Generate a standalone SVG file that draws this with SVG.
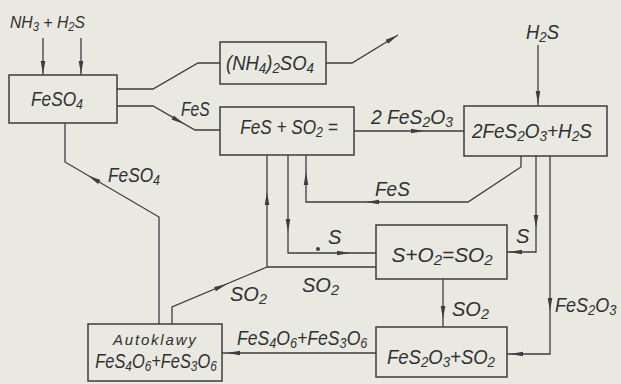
<svg xmlns="http://www.w3.org/2000/svg" xmlns:xlink="http://www.w3.org/1999/xlink" width="621" height="384" viewBox="0 0 621 384">
<style>
.bg{fill:#e9e8e1}
.box{fill:none;stroke:#3d3d3d;stroke-width:1.5}
.ln{fill:none;stroke:#3d3d3d;stroke-width:1.3}
.ah{fill:#3d3d3d}
text{font-family:"Liberation Sans","DejaVu Sans",sans-serif;font-style:italic;fill:#303030;font-size:20px}
.c{text-anchor:middle}
.sm{font-size:15px;letter-spacing:1.8px}
.md{font-size:17px}
.s{font-size:72%;baseline-shift:-22%}
</style>
<defs>
<path id="ah" d="M0,0 L-13,-2.3 L-13,2.3 Z"/>
</defs>
<rect class="bg" x="0" y="0" width="621" height="384"/>

<g id="connectors">
<path class="ln" d="M43,38 V75 M81,38 V75"/>
<use xlink:href="#ah" class="ah" transform="translate(43,74) rotate(90)"/>
<use xlink:href="#ah" class="ah" transform="translate(81,74) rotate(90)"/>
<path class="ln" d="M117,89 H153 L198,63 H220"/>
<path class="ln" d="M326,63 H352 L398,35"/>
<use xlink:href="#ah" class="ah" transform="translate(398,35) rotate(-31.3)"/>
<path class="ln" d="M117,106 H153 L195,130 H220"/>
<use xlink:href="#ah" class="ah" transform="translate(184,124) rotate(29.7)"/>
<path class="ln" d="M354,131 H464"/>
<use xlink:href="#ah" class="ah" transform="translate(424,131)"/>
<path class="ln" d="M538,45 V106"/>
<use xlink:href="#ah" class="ah" transform="translate(538,104) rotate(90)"/>
<path class="ln" d="M521,156 V167 L468,202 H306 V155"/>
<use xlink:href="#ah" class="ah" transform="translate(366,202) rotate(180)"/>
<use xlink:href="#ah" class="ah" transform="translate(306,172) rotate(-90)"/>
<path class="ln" d="M536,156 V252 H507"/>
<use xlink:href="#ah" class="ah" transform="translate(536,228) rotate(90)"/>
<use xlink:href="#ah" class="ah" transform="translate(509,252) rotate(180)"/>
<path class="ln" d="M550,156 V354 H507"/>
<use xlink:href="#ah" class="ah" transform="translate(550,311) rotate(90)"/>
<use xlink:href="#ah" class="ah" transform="translate(510,354) rotate(180)"/>
<path class="ln" d="M443,279 V327"/>
<use xlink:href="#ah" class="ah" transform="translate(443,319) rotate(90)"/>
<path class="ln" d="M288,155 V253 H376"/>
<use xlink:href="#ah" class="ah" transform="translate(288,232) rotate(90)"/>
<use xlink:href="#ah" class="ah" transform="translate(350,253)"/>
<circle class="ah" cx="318" cy="249" r="2"/>
<path class="ln" d="M376,267 H267 V155 M267,267 L172,307 V324"/>
<use xlink:href="#ah" class="ah" transform="translate(267,192) rotate(-90)"/>
<use xlink:href="#ah" class="ah" transform="translate(227,284) rotate(-22.8)"/>
<path class="ln" d="M376,353 H222"/>
<use xlink:href="#ah" class="ah" transform="translate(227,353) rotate(180)"/>
<path class="ln" d="M159,324 V217 L65,162 V123"/>
<use xlink:href="#ah" class="ah" transform="translate(88,175.5) rotate(210.3)"/>
</g>

<g id="labels">
<text class="md" transform="translate(10,28) scale(0.925,1)">NH<tspan class="s">3</tspan> + H<tspan class="s">2</tspan>S</text>
<text transform="translate(181,116) scale(0.78,1)">FeS</text>
<text transform="translate(371,124) scale(0.965,1)">2 FeS<tspan class="s">2</tspan>O<tspan class="s">3</tspan></text>
<text transform="translate(526,39) scale(0.92,1)">H<tspan class="s">2</tspan>S</text>
<text transform="translate(375,196) scale(0.95,1)">FeS</text>
<text x="516" y="243">S</text>
<text x="328" y="244">S</text>
<text x="452" y="316">SO<tspan class="s">2</tspan></text>
<text transform="translate(555,312) scale(0.9,1)">FeS<tspan class="s">2</tspan>O<tspan class="s">3</tspan></text>
<text x="230" y="301">SO<tspan class="s">2</tspan></text>
<text x="302" y="292">SO<tspan class="s">2</tspan></text>
<text transform="translate(237,345) scale(0.88,1)">FeS<tspan class="s">4</tspan>O<tspan class="s">6</tspan>+FeS<tspan class="s">3</tspan>O<tspan class="s">6</tspan></text>
<text transform="translate(108,182) scale(0.864,1)">FeSO<tspan class="s">4</tspan></text>
</g>

<g id="n-feso4">
<rect class="box" x="9" y="75" width="108" height="48"/>
<text class="c" transform="translate(57,106) scale(0.864,1)">FeSO<tspan class="s">4</tspan></text>
</g>
<g id="n-nh4so4">
<rect class="box" x="220" y="42" width="106" height="42"/>
<text class="c" transform="translate(270,70) scale(0.925,1)">(NH<tspan class="s">4</tspan>)<tspan class="s">2</tspan>SO<tspan class="s">4</tspan></text>
</g>
<g id="n-fes-so2">
<rect class="box" x="220" y="107" width="134" height="48"/>
<text class="c" transform="translate(289,134) scale(0.86,1)">FeS + SO<tspan class="s">2</tspan> =</text>
</g>
<g id="n-fes2o3-h2s">
<rect class="box" x="464" y="106" width="143" height="50"/>
<text class="c" transform="translate(532,138) scale(0.946,1)">2FeS<tspan class="s">2</tspan>O<tspan class="s">3</tspan>+H<tspan class="s">2</tspan>S</text>
</g>
<g id="n-s-o2">
<rect class="box" x="376" y="225" width="131" height="54"/>
<text class="c" transform="translate(442,262) scale(1.04,1)">S+O<tspan class="s">2</tspan>=SO<tspan class="s">2</tspan></text>
</g>
<g id="n-fes2o3-so2">
<rect class="box" x="376" y="327" width="131" height="50"/>
<text class="c" transform="translate(441,364) scale(0.924,1)">FeS<tspan class="s">2</tspan>O<tspan class="s">3</tspan>+SO<tspan class="s">2</tspan></text>
</g>
<g id="n-autoklawy">
<rect class="box" x="88" y="324" width="134" height="57"/>
<text class="sm" x="113" y="345">Autoklawy</text>
<text class="c" transform="translate(156,368) scale(0.82,1)">FeS<tspan class="s">4</tspan>O<tspan class="s">6</tspan>+FeS<tspan class="s">3</tspan>O<tspan class="s">6</tspan></text>
</g>
</svg>
